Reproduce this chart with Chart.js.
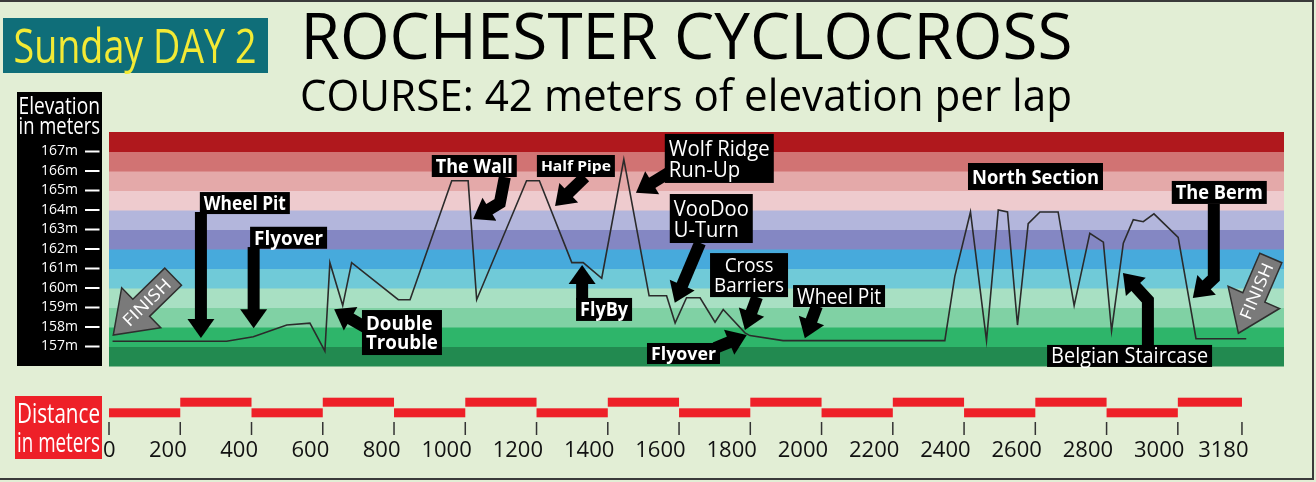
<!DOCTYPE html>
<html>
<head>
<meta charset="utf-8">
<script src="https://cdn.jsdelivr.net/npm/chart.js@4.4.1/dist/chart.umd.min.js"></script>
<style>
  html, body { margin: 0; padding: 0; background: #e6efde; }
  canvas { display: block; }
</style>
</head>
<body>
<canvas id="CourseChart" width="1316" height="482"></canvas>
<script>
// -------------------------    Data    -------------------------

// course profile: distance (m) and elevation (m)
var courseDist = [10, 330, 405, 499, 564, 606, 620, 656, 681, 812, 845, 962, 1008, 1032, 1172, 1208,
    1299, 1331, 1383, 1445, 1516, 1565, 1589, 1621, 1659, 1701, 1724, 1785, 1799, 1892, 2346, 2374,
    2418, 2463, 2496, 2522, 2550, 2580, 2613, 2664, 2709, 2753, 2791, 2814, 2847, 2875, 2903, 2933,
    3001, 3051, 3192];
var courseElev = [157.27, 157.27, 157.5, 158.1, 158.2, 156.76, 161.3, 159.1, 161.3, 159.4, 159.4, 165.5,
    165.5, 159.4, 165.5, 165.5, 161.3, 161.3, 160.5, 166.6, 159.6, 159.6, 158.2, 159.5, 159.5, 158.25,
    158.9, 157.7, 157.56, 157.3, 157.3, 160.6, 163.9, 157.3, 164.0, 163.9, 158.1, 163.3, 163.9, 163.9,
    159.1, 162.8, 162.35, 157.8, 162.3, 163.5, 163.4, 163.8, 162.6, 157.4, 157.4];

// elevation ticks and colour bands (one band per metre, 156 -> 168)
var elevTicks = [157, 158, 159, 160, 161, 162, 163, 164, 165, 166, 167];
var bandColors = ['#228a50', '#2eb56a', '#80d1a4', '#a8e0c3', '#70cad8', '#47aadc',
    '#8487c3', '#b3b6dc', '#eecbce', '#e4a9a9', '#d17373', '#b0181d'];

// distance ticks
var distTicks = [0, 200, 400, 600, 800, 1000, 1200, 1400, 1600, 1800, 2000, 2200, 2400, 2600, 2800, 3000, 3180];
var distLabels = ['0', '200', '400', '600', '800', '1000', '1200', '1400', '1600', '1800', '2000',
    '2200', '2400', '2600', '2800', '3000', '3180'];

// course features: box top-left at [distance, elevation], arrow path in the same units
var callouts = [
    { lines: ['Wheel Pit'], at: [255, 164.92], w: 90, h: 22, size: 19, bold: true, arrow: [[258, 163.9], [258, 157.44]] },
    { lines: ['Flyover'], at: [396, 163.14], w: 77, h: 22, size: 19, bold: true, arrow: [[406, 162.1], [406, 157.93]] },
    { lines: ['Double', 'Trouble'], at: [710, 158.87], w: 80, h: 45, size: 20, bold: true, arrow: [[732, 157.85], [632, 158.91]] },
    { lines: ['The Wall'], at: [906, 166.82], w: 85, h: 22, size: 19, bold: true, arrow: [[1111, 165.69], [1097, 164.36], [1022, 163.54]] },
    { lines: ['Half Pipe'], at: [1201, 166.82], w: 78, h: 22, size: 15, bold: true, arrow: [[1336, 165.69], [1252, 164.21]] },
    { lines: ['Wolf Ridge', 'Run-Up'], at: [1560, 167.9], w: 109, h: 49, size: 22, bold: false, arrow: [[1575, 165.95], [1479, 164.89]] },
    { lines: ['VooDoo', 'U-Turn'], at: [1574, 164.82], w: 83, h: 49, size: 22, bold: false, arrow: [[1659, 162.31], [1588, 159.25]] },
    { lines: ['FlyBy'], at: [1311, 159.49], w: 56, h: 23, size: 19, bold: true, arrow: [[1328, 159.38], [1328, 161.18]] },
    { lines: ['Cross', 'Barriers'], at: [1687, 161.79], w: 78, h: 44, size: 20, bold: false, center: true, arrow: [[1819, 159.54], [1785, 157.85]] },
    { lines: ['Flyover'], at: [1510, 157.18], w: 73, h: 21, size: 18, bold: true, arrow: [[1701, 156.92], [1790, 157.59]] },
    { lines: ['Wheel Pit'], at: [1920, 160.15], w: 92, h: 22, size: 21, bold: false, arrow: [[1987, 159.08], [1953, 157.42]] },
    { lines: ['North Section'], at: [2411, 166.41], w: 135, h: 27, size: 20, bold: true },
    { lines: ['The Berm'], at: [2983, 165.49], w: 95, h: 23, size: 19, bold: true, arrow: [[3101, 164.31], [3101, 160.51], [3042, 159.49]] },
    { lines: ['Belgian Staircase'], at: [2633, 157.08], w: 165, h: 22, size: 21, bold: false, arrow: [[2916, 157.03], [2916, 159.38], [2846, 160.77]] },
];

// finish arrows: tail and tip in [distance, elevation]
var finishArrows = [
    { tail: [180, 160.58], tip: [12, 157.59] },
    { tail: [3261, 161.54], tip: [3170, 157.68] },
];

var FONT = "'Open Sans', 'Noto Sans', sans-serif";


// -------------------------    Helper functions    -------------------------

// draws text squeezed / stretched to a given width
function fitText(ctx, str, x, y, font, width) {
    ctx.font = font;
    var s = width / ctx.measureText(str).width;
    ctx.save();
    ctx.translate(x, y);
    ctx.scale(s, 1);
    ctx.textAlign = 'left';
    ctx.fillText(str, 0, 0);
    ctx.restore();
}

function blackArrow(ctx, pts, shaft, headW, headL) {
    var n = pts.length;
    var tx = pts[n - 1][0], ty = pts[n - 1][1];
    var len = Math.hypot(tx - pts[n - 2][0], ty - pts[n - 2][1]);
    var ux = (tx - pts[n - 2][0]) / len, uy = (ty - pts[n - 2][1]) / len;
    var bx = tx - ux * headL, by = ty - uy * headL;

    ctx.beginPath();
    ctx.moveTo(pts[0][0], pts[0][1]);
    for (var i = 1; i < n - 1; i++) ctx.lineTo(pts[i][0], pts[i][1]);
    ctx.lineTo(bx + ux, by + uy);
    ctx.lineWidth = shaft;
    ctx.lineJoin = 'miter';
    ctx.lineCap = 'butt';
    ctx.strokeStyle = '#000';
    ctx.stroke();

    ctx.beginPath();
    ctx.moveTo(tx, ty);
    ctx.lineTo(bx - uy * headW / 2, by + ux * headW / 2);
    ctx.lineTo(bx + uy * headW / 2, by - ux * headW / 2);
    ctx.closePath();
    ctx.fillStyle = '#000';
    ctx.fill();
}

function finishArrow(ctx, tail, tip) {
    var dx = tip[0] - tail[0], dy = tip[1] - tail[1];
    var len = Math.hypot(dx, dy);
    var ux = dx / len, uy = dy / len, nx = -uy, ny = ux;
    var sw = 12, hw = 28, hl = 39;
    var bx = tip[0] - ux * hl, by = tip[1] - uy * hl;
    var pts = [
        [tail[0] + nx * sw, tail[1] + ny * sw],
        [bx + nx * sw, by + ny * sw],
        [bx + nx * hw, by + ny * hw],
        tip,
        [bx - nx * hw, by - ny * hw],
        [bx - nx * sw, by - ny * sw],
        [tail[0] - nx * sw, tail[1] - ny * sw],
    ];
    ctx.beginPath();
    ctx.moveTo(pts[0][0], pts[0][1]);
    for (var i = 1; i < pts.length; i++) ctx.lineTo(pts[i][0], pts[i][1]);
    ctx.closePath();
    ctx.fillStyle = '#7a7a7a';
    ctx.fill();
    ctx.lineWidth = 1.5;
    ctx.strokeStyle = '#2e2e2e';
    ctx.stroke();

    // label reads from tip towards tail
    var cx = tail[0] + dx * 0.44, cy = tail[1] + dy * 0.44;
    ctx.save();
    ctx.translate(cx, cy);
    ctx.rotate(Math.atan2(-dy, -dx));
    ctx.fillStyle = '#fff';
    ctx.textBaseline = 'middle';
    ctx.font = '17px ' + FONT;
    var s = 60 / ctx.measureText('FINISH').width;
    ctx.scale(s, 1);
    ctx.textAlign = 'center';
    ctx.fillText('FINISH', 0, 1);
    ctx.restore();
}


// -------------------------    Plugins    -------------------------

var backdrop = {
    id: 'backdrop',
    beforeDraw(chart) {
        var ctx = chart.ctx, a = chart.chartArea, y = chart.scales.y;
        ctx.save();
        ctx.fillStyle = '#e2eed5';
        ctx.fillRect(0, 0, chart.width, chart.height);

        // frame
        ctx.strokeStyle = '#3a3a3a';
        ctx.lineWidth = 2;
        ctx.strokeRect(-2, 1, 1315, 478);

        // elevation bands
        bandColors.forEach(function (c, i) {
            var top = y.getPixelForValue(y.min + i + 1);
            var bottom = y.getPixelForValue(y.min + i);
            ctx.fillStyle = c;
            ctx.fillRect(a.left, top, a.right - a.left, bottom - top + 0.5);
        });
        ctx.restore();
    }
};

var decorations = {
    id: 'decorations',
    afterDatasetsDraw(chart) {
        var ctx = chart.ctx, a = chart.chartArea;
        var x = chart.scales.x, y = chart.scales.y;
        var P = function (p) { return [x.getPixelForValue(p[0]), y.getPixelForValue(p[1])]; };
        ctx.save();

        // arrows first, boxes on top
        callouts.forEach(function (c) {
            if (c.arrow) blackArrow(ctx, c.arrow.map(P), 12, 27, 19);
        });
        callouts.forEach(function (c) {
            var p = P(c.at);
            ctx.fillStyle = '#000';
            ctx.fillRect(p[0], p[1], c.w, c.h);
            ctx.font = (c.bold ? 'bold ' : '') + c.size + 'px ' + FONT;
            var maxW = Math.max.apply(null, c.lines.map(function (l) { return ctx.measureText(l).width; }));
            var s = Math.min((c.w - 8) / maxW, 1.2);
            var gap = c.size * 0.98, cap = c.size * 0.714;
            var base = p[1] + c.h / 2 - (c.lines.length - 1) * gap / 2 + cap / 2;
            ctx.fillStyle = '#fff';
            c.lines.forEach(function (l, i) {
                var lw = ctx.measureText(l).width * s;
                var lx = c.center ? p[0] + (c.w - lw) / 2 : p[0] + 4;
                ctx.save();
                ctx.translate(lx, base + i * gap);
                ctx.scale(s, 1);
                ctx.fillText(l, 0, 0);
                ctx.restore();
            });
        });

        finishArrows.forEach(function (f) { finishArrow(ctx, P(f.tail), P(f.tip)); });

        // -------- elevation panel --------
        ctx.fillStyle = '#000';
        ctx.fillRect(17, 92, 85, a.bottom - 92);
        ctx.fillStyle = '#fff';
        fitText(ctx, 'Elevation', 18.5, 114, '24px ' + FONT, 81.5);
        fitText(ctx, 'in meters', 18.5, 133.5, '24px ' + FONT, 81.5);
        ctx.font = '14px ' + FONT;
        ctx.textAlign = 'right';
        ctx.textBaseline = 'middle';
        elevTicks.forEach(function (v) {
            var py = y.getPixelForValue(v);
            ctx.fillText(v + 'm', 78, py);
            ctx.fillRect(85, py - 1, 14.5, 2);
        });

        // -------- distance bar --------
        ctx.textBaseline = 'alphabetic';
        ctx.fillStyle = '#ee2028';
        ctx.fillRect(15, 396, 87, 63);
        ctx.fillStyle = '#fff';
        fitText(ctx, 'Distance', 17, 423, '27px ' + FONT, 83);
        fitText(ctx, 'in meters', 17, 452, '27px ' + FONT, 83);

        for (var i = 0; i < distTicks.length - 1; i++) {
            var x0 = x.getPixelForValue(distTicks[i]);
            var x1 = x.getPixelForValue(distTicks[i + 1]);
            ctx.fillStyle = '#ee2028';
            ctx.fillRect(x0, i % 2 === 0 ? 408.3 : 397.7, x1 - x0, 9);
        }
        ctx.font = '22px ' + FONT;
        ctx.textAlign = 'right';
        distTicks.forEach(function (d, i) {
            var px = x.getPixelForValue(d);
            ctx.fillStyle = '#333';
            ctx.fillRect(px - 0.75, 422, 1.5, 13);
            ctx.fillStyle = '#111';
            ctx.fillText(distLabels[i], px + 6.5, 456.5);
        });

        // -------- titles --------
        ctx.fillStyle = '#0f6e79';
        ctx.fillRect(3, 18, 265, 55);
        ctx.fillStyle = '#f3ea35';
        fitText(ctx, 'Sunday DAY 2', 13.5, 62.5, '47px ' + FONT, 243);
        ctx.fillStyle = '#000';
        fitText(ctx, 'ROCHESTER CYCLOCROSS', 300.5, 59.3, '64px ' + FONT, 772);
        fitText(ctx, 'COURSE: 42 meters of elevation per lap', 300, 111, '43px ' + FONT, 772);

        ctx.restore();
    }
};


// -------------------------    Chart Setup    -------------------------

var coursePoints = courseDist.map(function (d, i) { return { x: d, y: courseElev[i] }; });

var ctx = document.getElementById('CourseChart').getContext('2d');
var CourseChart = new Chart(ctx, {
    type: 'line',
    data: {
        datasets: [{
            label: 'Elevation',
            data: coursePoints,
            borderColor: '#2b2b2b',
            borderWidth: 1.6,
            pointRadius: 0,
            tension: 0,
            fill: false,
        }]
    },
    options: {
        responsive: false,
        animation: false,
        events: [],
        layout: { padding: { left: 109, right: 32, top: 132, bottom: 116 } },
        scales: {
            x: { type: 'linear', min: 0, max: 3298, display: false },
            y: { min: 156, max: 168, display: false },
        },
        plugins: {
            legend: { display: false },
            tooltip: { enabled: false },
        },
    },
    plugins: [backdrop, decorations],
});
</script>
</body>
</html>
